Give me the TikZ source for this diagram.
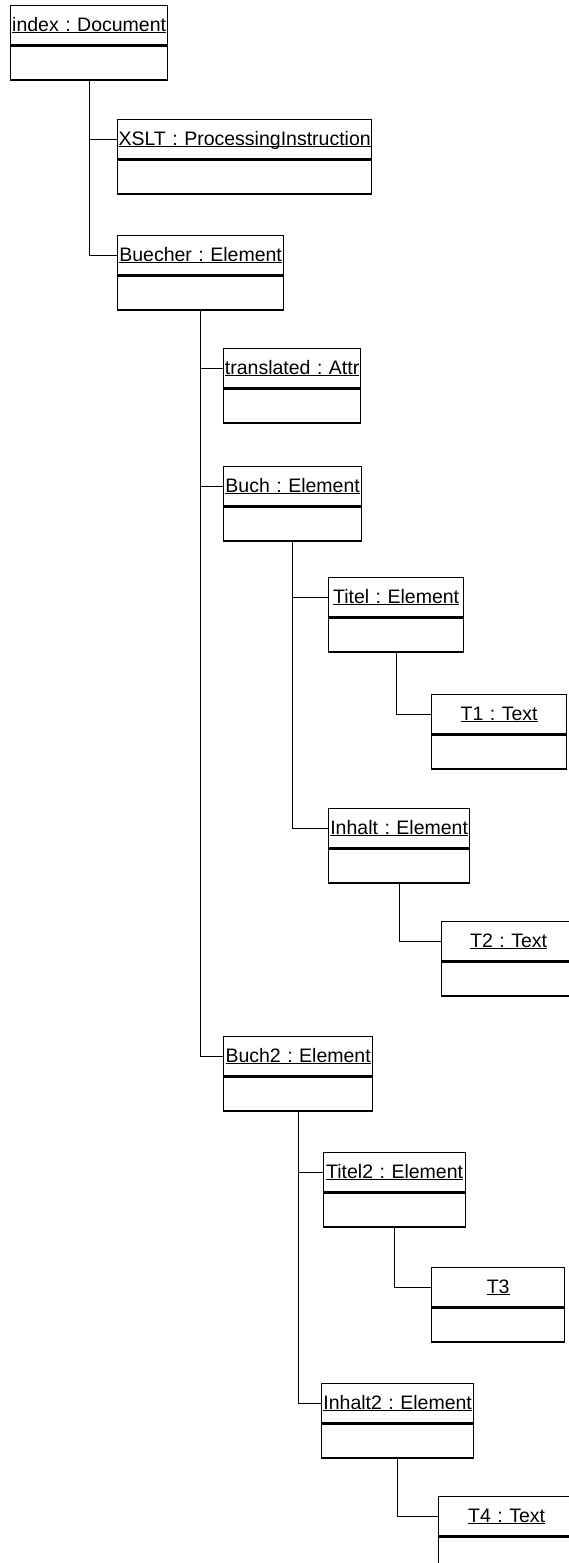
\documentclass[tikz,border=0pt]{standalone}
\usepackage{fontspec}
\setmainfont{Liberation Sans}
\usetikzlibrary{positioning}
\frenchspacing
\newcommand\objfont{\fontsize{19.5}{22}\selectfont}
\newcommand\objlabel[1]{\underline{\smash{#1}}}

\begin{document}
\begin{tikzpicture}[x=1pt,y=-1pt,
  objname/.style={draw, line width=1.3pt, anchor=north west, inner sep=0pt,
    minimum height=39pt, text height=16pt, text depth=4pt, align=center, font=\objfont},
  objattr/.style={draw, line width=1.3pt, inner sep=0pt, minimum height=34pt, below=0pt of #1},
  link/.style={line width=1.3pt}]
\useasboundingbox (0,0) rectangle (569,1563);
\clip (0,0) rectangle (569,1563);
% objects
\node[objname, text width=157pt] (index) at (10,5) {\objlabel{index : Document}};
\node[objattr=index, minimum width=157pt] (index-a) {};
\node[objname, text width=254pt] (xslt) at (117,119) {\objlabel{XSLT : ProcessingInstruction}};
\node[objattr=xslt, minimum width=254pt] (xslt-a) {};
\node[objname, text width=166pt] (buecher) at (117,235) {\objlabel{Buecher : Element}};
\node[objattr=buecher, minimum width=166pt] (buecher-a) {};
\node[objname, text width=137pt] (translated) at (223,348) {\objlabel{translated : Attr}};
\node[objattr=translated, minimum width=137pt] (translated-a) {};
\node[objname, text width=138pt] (buch) at (223,466) {\objlabel{Buch : Element}};
\node[objattr=buch, minimum width=138pt] (buch-a) {};
\node[objname, text width=135pt] (titel) at (328,577) {\objlabel{Titel : Element}};
\node[objattr=titel, minimum width=135pt] (titel-a) {};
\node[objname, text width=135pt] (t1) at (431,694) {\objlabel{T1 : Text}};
\node[objattr=t1, minimum width=135pt] (t1-a) {};
\node[objname, text width=141pt] (inhalt) at (328,808) {\objlabel{Inhalt : Element}};
\node[objattr=inhalt, minimum width=141pt] (inhalt-a) {};
\node[objname, text width=134pt] (t2) at (441,921) {\objlabel{T2 : Text}};
\node[objattr=t2, minimum width=134pt] (t2-a) {};
\node[objname, text width=149pt] (buch2) at (223,1036) {\objlabel{Buch2 : Element}};
\node[objattr=buch2, minimum width=149pt] (buch2-a) {};
\node[objname, text width=142pt] (titel2) at (323,1152) {\objlabel{Titel2 : Element}};
\node[objattr=titel2, minimum width=142pt] (titel2-a) {};
\node[objname, text width=133pt] (t3) at (431,1267) {\objlabel{T3}};
\node[objattr=t3, minimum width=133pt] (t3-a) {};
\node[objname, text width=152pt] (inhalt2) at (321,1383) {\objlabel{Inhalt2 : Element}};
\node[objattr=inhalt2, minimum width=152pt] (inhalt2-a) {};
\node[objname, text width=136pt] (t4) at (438,1496) {\objlabel{T4 : Text}};
\node[objattr=t4, minimum width=136pt] (t4-a) {};
% links
\draw[link] (index-a.south) |- (xslt.west);
\draw[link] (index-a.south) |- (buecher.west);
\draw[link] (buecher-a.south) |- (translated.west);
\draw[link] (buecher-a.south) |- (buch.west);
\draw[link] (buecher-a.south) |- (buch2.west);
\draw[link] (buch-a.south) |- (titel.west);
\draw[link] (buch-a.south) |- (inhalt.west);
\draw[link] (titel-a.south) |- (t1.west);
\draw[link] (inhalt-a.south) |- (t2.west);
\draw[link] (buch2-a.south) |- (titel2.west);
\draw[link] (buch2-a.south) |- (inhalt2.west);
\draw[link] (titel2-a.south) |- (t3.west);
\draw[link] (inhalt2-a.south) |- (t4.west);
\end{tikzpicture}
\end{document}
